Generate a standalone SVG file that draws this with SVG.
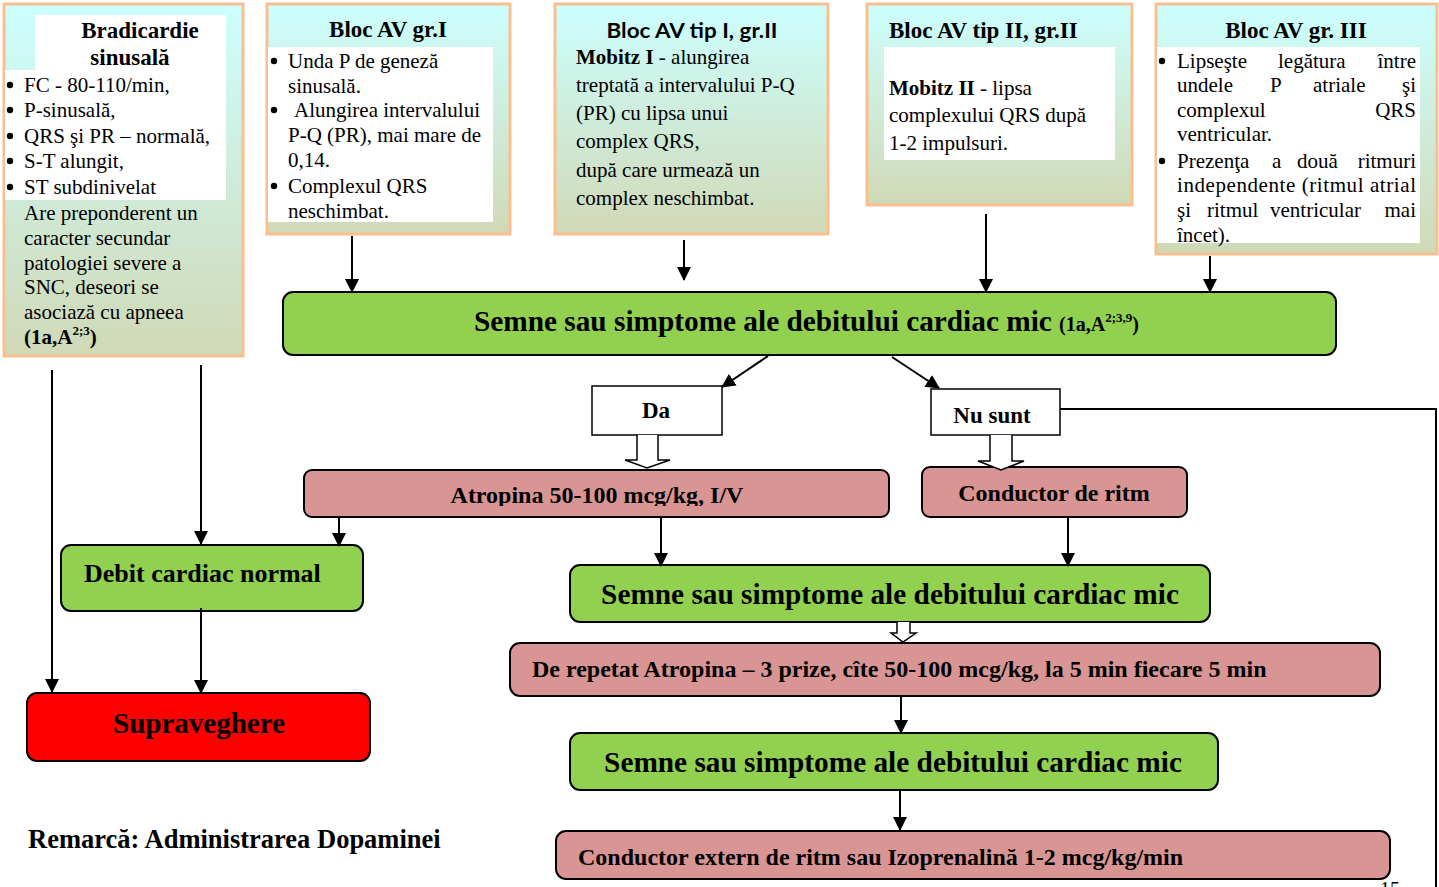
<svg xmlns="http://www.w3.org/2000/svg" width="1439" height="887" viewBox="0 0 1439 887">
<style>
.t{font-family:"Liberation Serif","Times New Roman",serif;fill:#000}
.b{font-weight:bold}
.body{font-size:21px}
.ttl{font-size:23px;font-weight:bold}
.top{stroke:#F9BF8F;stroke-width:3;fill:url(#gr)}
.wh{fill:#fff}
.bu{fill:#000}
.green{fill:#92D050;stroke:#000;stroke-width:2}
.pink{fill:#D99594;stroke:#000;stroke-width:2}
.red{fill:#FF0000;stroke:#000;stroke-width:2}
.lbl{fill:#fff;stroke:#000;stroke-width:1.5}
.ln{stroke:#000;stroke-width:2;fill:none}
.ar{stroke:#000;stroke-width:2;fill:none;marker-end:url(#ah)}
.hol{fill:#fff;stroke:#000;stroke-width:1.5}
</style>
<defs>
<linearGradient id="gr" x1="0" y1="0" x2="0" y2="1">
<stop offset="0" stop-color="#CCFFFF"/>
<stop offset="1" stop-color="#D1D9B6"/>
</linearGradient>
<marker id="ah" markerWidth="14" markerHeight="15" refX="13" refY="7" orient="auto" markerUnits="userSpaceOnUse" viewBox="0 0 14 14">
<path d="M0,0 L14,7 L0,14 z" fill="#000"/>
</marker>
<clipPath id="clipA"><rect x="304" y="470" width="585" height="36"/></clipPath>
</defs>

<g id="bradicardie">
<rect class="top" x="4" y="4" width="239" height="352"/>
<rect class="wh" x="35" y="15" width="191" height="56"/>
<rect class="wh" x="5" y="70" width="221" height="130"/>
<text class="t ttl" x="140" y="38" text-anchor="middle">Bradicardie</text>
<text class="t ttl" x="130" y="65" text-anchor="middle">sinusală</text>
<circle class="bu" cx="10" cy="85" r="3.2"/>
<circle class="bu" cx="10" cy="110" r="3.2"/>
<circle class="bu" cx="10" cy="136" r="3.2"/>
<circle class="bu" cx="10" cy="161" r="3.2"/>
<circle class="bu" cx="10" cy="187" r="3.2"/>
<g class="t body">
<text x="24" y="92">FC - 80-110/min,</text>
<text x="24" y="117">P-sinusală,</text>
<text x="24" y="143">QRS şi PR – normală,</text>
<text x="24" y="168">S-T alungit,</text>
<text x="24" y="194">ST subdinivelat</text>
<text x="24" y="220">Are preponderent un</text>
<text x="24" y="245">caracter secundar</text>
<text x="24" y="270">patologiei severe a</text>
<text x="24" y="294">SNC, deseori se</text>
<text x="24" y="319">asociază cu apneea</text>
<text x="24" y="344" class="b">(1a,A<tspan font-size="13" dy="-9">2;3</tspan><tspan dy="9">)</tspan></text>
</g>
</g>

<g id="blocI">
<rect class="top" x="267" y="4" width="243" height="230"/>
<rect class="wh" x="268" y="47" width="225" height="175"/>
<text class="t ttl" x="388" y="37" text-anchor="middle">Bloc AV gr.I</text>
<circle class="bu" cx="274" cy="61" r="3.2"/>
<circle class="bu" cx="274" cy="110" r="3.2"/>
<circle class="bu" cx="274" cy="186" r="3.2"/>
<g class="t body">
<text x="288" y="68">Unda P de geneză</text>
<text x="288" y="93">sinusală.</text>
<text x="294" y="117">Alungirea intervalului</text>
<text x="288" y="142">P-Q (PR), mai mare de</text>
<text x="288" y="167">0,14.</text>
<text x="288" y="193">Complexul QRS</text>
<text x="288" y="218">neschimbat.</text>
</g>
</g>

<g id="blocIgrII">
<rect class="top" x="555" y="4" width="273" height="230"/>
<text x="692" y="38" text-anchor="middle" font-family="Lato, 'Liberation Sans', sans-serif" font-weight="bold" font-size="21" textLength="171" lengthAdjust="spacingAndGlyphs">Bloc AV tip I, gr.II</text>
<g class="t body">
<text x="576" y="64"><tspan class="b">Mobitz I</tspan> - alungirea</text>
<text x="576" y="92">treptată a intervalului P-Q</text>
<text x="576" y="120">(PR) cu lipsa unui</text>
<text x="576" y="148">complex QRS,</text>
<text x="576" y="177">după care urmează un</text>
<text x="576" y="205">complex neschimbat.</text>
</g>
</g>

<g id="blocIIgrII">
<rect class="top" x="867" y="4" width="265" height="201"/>
<rect class="wh" x="884" y="47" width="231" height="113"/>
<text class="t ttl" x="889" y="38">Bloc AV tip II, gr.II</text>
<g class="t body">
<text x="889" y="95"><tspan class="b">Mobitz II</tspan> - lipsa</text>
<text x="889" y="122">complexului QRS după</text>
<text x="889" y="150">1-2 impulsuri.</text>
</g>
</g>

<g id="blocIII">
<rect class="top" x="1156" y="4" width="281" height="250"/>
<rect class="wh" x="1157" y="47" width="263" height="196"/>
<text class="t ttl" x="1296" y="38" text-anchor="middle">Bloc AV gr. III</text>
<circle class="bu" cx="1162" cy="61" r="3.2"/>
<circle class="bu" cx="1162" cy="161" r="3.2"/>
<g class="t body">
<text x="1177" y="68">Lipseşte</text><text x="1278" y="68">legătura</text><text x="1416" y="68" text-anchor="end">între</text>
<text x="1177" y="92">undele</text><text x="1270" y="92">P</text><text x="1313" y="92">atriale</text><text x="1416" y="92" text-anchor="end">şi</text>
<text x="1177" y="117">complexul</text><text x="1416" y="117" text-anchor="end">QRS</text>
<text x="1177" y="141">ventricular.</text>
<text x="1177" y="168">Prezenţa</text><text x="1272" y="168">a</text><text x="1297" y="168">două</text><text x="1416" y="168" text-anchor="end">ritmuri</text>
<text x="1177" y="192" textLength="239" lengthAdjust="spacing">independente (ritmul atrial</text>
<text x="1177" y="217">şi</text><text x="1207" y="217">ritmul</text><text x="1270" y="217">ventricular</text><text x="1416" y="217" text-anchor="end">mai</text>
<text x="1177" y="242">încet).</text>
</g>
</g>

<g id="semne1">
<rect class="green" x="283" y="292" width="1053" height="63" rx="10"/>
<text class="t b" x="474" y="331" font-size="29.3">Semne sau simptome ale debitului cardiac mic <tspan font-size="20">(1a,A<tspan font-size="13" dy="-9">2;3,9</tspan><tspan dy="9">)</tspan></tspan></text>
</g>

<g id="da">
<rect class="lbl" x="592" y="386" width="130" height="49"/>
<text class="t b" x="656" y="418" font-size="23" text-anchor="middle">Da</text>
</g>

<g id="nusunt">
<rect class="lbl" x="931" y="389" width="129" height="46"/>
<text class="t b" x="992" y="423" font-size="23" text-anchor="middle">Nu sunt</text>
</g>

<g id="atropina">
<rect class="pink" x="304" y="470" width="585" height="47" rx="8"/>
<text class="t b" x="597" y="503" font-size="24" text-anchor="middle" clip-path="url(#clipA)">Atropina 50-100 mcg/kg, I/V</text>
</g>

<g id="conductor">
<rect class="pink" x="922" y="467" width="265" height="50" rx="8"/>
<text class="t b" x="1054" y="501" font-size="24" text-anchor="middle">Conductor de ritm</text>
</g>

<g id="debitnormal">
<rect class="green" x="61" y="545" width="302" height="66" rx="10"/>
<text class="t b" x="84" y="582" font-size="26">Debit cardiac normal</text>
</g>

<g id="supraveghere">
<rect class="red" x="27" y="693" width="343" height="68" rx="10"/>
<text class="t b" x="199" y="733" font-size="29" text-anchor="middle">Supraveghere</text>
</g>

<g id="semne2">
<rect class="green" x="570" y="565" width="640" height="57" rx="10"/>
<text class="t b" x="890" y="604" font-size="29.3" text-anchor="middle">Semne sau simptome ale debitului cardiac mic</text>
</g>

<g id="repetat">
<rect class="pink" x="510" y="643" width="870" height="53" rx="10"/>
<text class="t b" x="532" y="677" font-size="24">De repetat Atropina – 3 prize, cîte 50-100 mcg/kg, la 5 min fiecare 5 min</text>
</g>

<g id="semne3">
<rect class="green" x="570" y="733" width="648" height="57" rx="10"/>
<text class="t b" x="893" y="772" font-size="29.3" text-anchor="middle">Semne sau simptome ale debitului cardiac mic</text>
</g>

<g id="extern">
<rect class="pink" x="556" y="831" width="834" height="48" rx="10"/>
<text class="t b" x="578" y="865" font-size="24">Conductor extern de ritm sau Izoprenalină 1-2 mcg/kg/min</text>
</g>

<g id="remarca">
<text class="t b" x="28" y="848" font-size="26.5">Remarcă: Administrarea Dopaminei</text>
</g>

<g id="pagenum">
<text class="t" x="1380" y="896" font-size="20">15</text>
</g>

<g id="connectors">
<line class="ar" x1="352" y1="236" x2="352" y2="292"/>
<line class="ar" x1="684" y1="240" x2="684" y2="280"/>
<line class="ar" x1="986" y1="214" x2="986" y2="292"/>
<line class="ar" x1="1210" y1="256" x2="1210" y2="292"/>
<line class="ar" x1="52" y1="370" x2="52" y2="692"/>
<line class="ar" x1="201" y1="365" x2="201" y2="544"/>
<line class="ar" x1="768" y1="356" x2="722" y2="387"/>
<line class="ar" x1="892" y1="357" x2="939" y2="388"/>
<polyline class="ln" points="1060,409 1436,409 1436,887"/>
<path class="hol" d="M637,435 L637,460 L625,460 L647,468 L670,460 L658,460 L658,435"/>
<path class="hol" d="M990,435 L990,461 L978,461 L1001,470 L1024,461 L1012,461 L1012,435"/>
<line class="ar" x1="339" y1="517" x2="339" y2="546"/>
<line class="ar" x1="661" y1="517" x2="661" y2="566"/>
<line class="ar" x1="1068" y1="517" x2="1068" y2="566"/>
<line class="ar" x1="201" y1="608" x2="201" y2="693"/>
<path class="hol" d="M897,622 L897,633 L891,633 L903,642 L916,633 L910,633 L910,622"/>
<line class="ar" x1="901" y1="696" x2="901" y2="733"/>
<line class="ar" x1="900" y1="790" x2="900" y2="830"/>
</g>
</svg>
